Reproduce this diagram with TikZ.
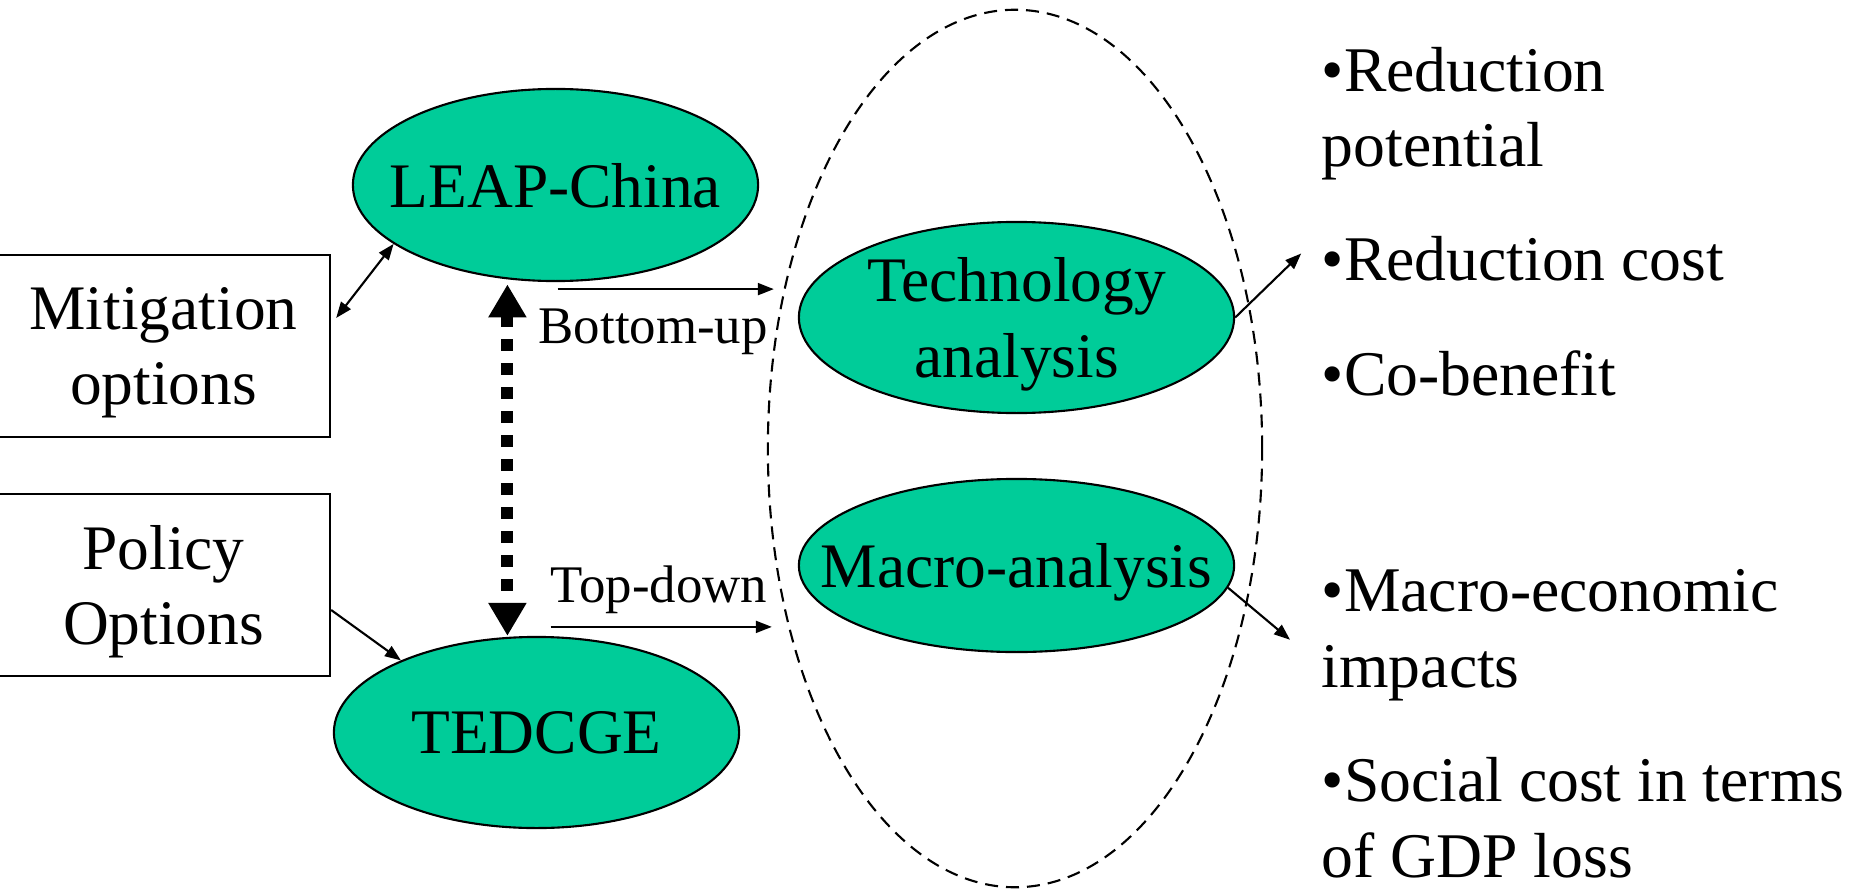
\documentclass[tikz,border=0pt]{standalone}
\usepackage{fontspec}
\setmainfont{Liberation Serif}
\usetikzlibrary{shapes.geometric,arrows.meta,calc}
\definecolor{modelgreen}{HTML}{00CC99}

\begin{document}
\begin{tikzpicture}[x=0.01cm, y=-0.01cm,
        model/.style={ellipse, draw, line width=0.6pt, fill=modelgreen,
            inner xsep=-0.5cm, inner ysep=0pt, align=center, text depth=0pt,
            font=\fontsize{18.04}{21.34}\selectfont},
        optbox/.style={rectangle, draw, line width=0.6pt, minimum width=3.33cm,
            minimum height=1.82cm, align=center, text depth=0pt,
            font=\fontsize{18.04}{21.34}\selectfont},
        result/.style={inner sep=0pt, align=left, anchor=base west,
            font=\fontsize{18.1}{21.4}\selectfont},
        flowlabel/.style={inner sep=0pt, anchor=base west,
            font=\fontsize{15.03}{18}\selectfont},
        link/.style={line width=0.6pt, -{Triangle[length=0.16cm,width=0.12cm]}},
        bilink/.style={line width=0.6pt,
            {Triangle[length=0.16cm,width=0.12cm]}-{Triangle[length=0.16cm,width=0.12cm]}},
        biglink/.style={line width=0.12cm, dash pattern=on 0.12cm off 0.12cm,
            {Triangle[length=0.33cm,width=0.36cm]}-{Triangle[length=0.33cm,width=0.36cm]}}]

        \useasboundingbox (0,0) rectangle (1867,888);

        % Analysis frame
        \node[ellipse, draw, line width=0.6pt, dash pattern=on 0.13cm off 0.08cm,
            minimum width=4.94cm, minimum height=8.77cm] (ana) at (1015,448.5) {};

        % Option boxes
        \node[optbox] (mit) at (163.5,346) {Mitigation\\options};
        \node[optbox] (pol) at (163.5,585) {Policy\\Options};

        % Models
        \node[model, minimum width=4.05cm, minimum height=1.92cm] (leap) at (555.5,185) {LEAP-China};
        \node[model, minimum width=4.05cm, minimum height=1.91cm] (ted) at (536.5,732.5) {TEDCGE};
        \node[model, minimum width=4.35cm, minimum height=1.91cm] (tech) at (1016.5,317.5) {Technology\\analysis};
        \node[model, minimum width=4.35cm, minimum height=1.73cm] (macro) at (1016.5,565.5) {Macro-analysis};

        % Results (base = last line)
        \node[result] (pot) at (1321,167) {•Reduction\\potential};
        \node[result] (cost) at (1321,280) {•Reduction cost};
        \node[result] (cob) at (1321,395) {•Co-benefit};
        \node[result] (mac) at (1321,687) {•Macro-economic\\impacts};
        \node[result] (soc) at (1321,877) {•Social cost in terms\\of GDP loss};

        % Links between models
        \draw[biglink] ([yshift=-0.05cm]leap.243.5) -- (leap.243.5 |- ted.north);
        \coordinate (bu) at ($(leap.south)+(2,7)$);
        \coordinate (td) at ($(ted.north)+(14,-9)$);
        \draw[link] (bu) -- ([xshift=0.07cm]bu -| ana.west);
        \draw[link] (td) -- ([xshift=0.05cm]td -| ana.west);
        \node[flowlabel] (bulabel) at (538,343) {Bottom-up};
        \node[flowlabel] (tdlabel) at (550,602) {Top-down};

        % Inputs
        \draw[bilink] ($(mit.east)+(5,-28)$) -- (leap.200);
        \draw[link] ($(pol.east)+(0,25)$) -- (ted.152);

        % Outputs
        \coordinate (techout) at ($(tech.east)+(66,-64)$);
        \coordinate (macout) at ($(macro.354)+(62,52)$);
        \draw[link] (tech.east) -- (techout);
        \draw[link] (macro.354) -- (macout);
    \end{tikzpicture}
\end{document}
